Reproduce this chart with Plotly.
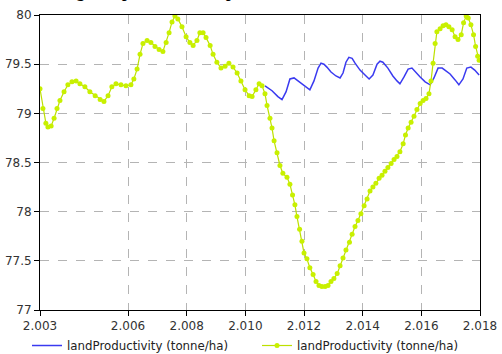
import plotly.graph_objects as go

# ---------------- data ----------------
title_text = "Average Crop Harvest Comparison"
series_name = "landProductivity (tonne/ha)"

x_tick_vals = [2003, 2006, 2008, 2010, 2012, 2014, 2016, 2018]
x_tick_text = ["2.003", "2.006", "2.008", "2.010", "2.012", "2.014", "2.016", "2.018"]
y_tick_vals = [77, 77.5, 78, 78.5, 79, 79.5, 80]
y_tick_text = ["77", "77.5", "78", "78.5", "79", "79.5", "80"]

green_years = [
    2003.00, 2003.10, 2003.20, 2003.27, 2003.38, 2003.48, 2003.58, 2003.68, 2003.82, 2003.95,
    2004.09, 2004.23, 2004.36, 2004.53, 2004.70, 2004.88, 2005.05, 2005.18, 2005.32, 2005.45,
    2005.59, 2005.76, 2005.93, 2006.10, 2006.20, 2006.31, 2006.41, 2006.51, 2006.65, 2006.78,
    2006.92, 2007.06, 2007.19, 2007.30, 2007.40, 2007.50, 2007.60, 2007.70, 2007.84, 2007.98,
    2008.11, 2008.22, 2008.35, 2008.45, 2008.56, 2008.66, 2008.80, 2008.90, 2009.03, 2009.17,
    2009.31, 2009.44, 2009.58, 2009.72, 2009.85, 2009.99, 2010.13, 2010.23, 2010.36, 2010.47,
    2010.57, 2010.67, 2010.74, 2010.84, 2010.91, 2010.98, 2011.08, 2011.18, 2011.28, 2011.42,
    2011.52, 2011.61, 2011.69, 2011.76, 2011.85, 2011.93, 2012.00, 2012.10, 2012.20, 2012.31,
    2012.41, 2012.51, 2012.61, 2012.72, 2012.82, 2012.92, 2013.02, 2013.13, 2013.23, 2013.33,
    2013.43, 2013.55, 2013.64, 2013.74, 2013.84, 2013.94, 2014.05, 2014.15, 2014.25, 2014.35,
    2014.45, 2014.56, 2014.66, 2014.76, 2014.86, 2014.97, 2015.07, 2015.17, 2015.27, 2015.38,
    2015.46, 2015.55, 2015.65, 2015.75, 2015.85, 2015.96, 2016.06, 2016.16, 2016.26, 2016.33,
    2016.40, 2016.47, 2016.53, 2016.64, 2016.74, 2016.84, 2016.94, 2017.05, 2017.15, 2017.25,
    2017.36, 2017.44, 2017.53, 2017.60, 2017.69, 2017.78, 2017.85, 2017.92, 2017.97,
]
green_values = [
    79.25, 79.05, 78.90, 78.86, 78.87, 78.95, 79.05, 79.13, 79.22, 79.29,
    79.32, 79.33, 79.30, 79.27, 79.22, 79.18, 79.14, 79.12, 79.18, 79.27,
    79.30, 79.29, 79.28, 79.29, 79.35, 79.45, 79.60, 79.71, 79.74, 79.72,
    79.68, 79.65, 79.63, 79.72, 79.82, 79.93, 79.99, 79.96, 79.88, 79.78,
    79.72, 79.69, 79.74, 79.82, 79.82, 79.77, 79.69, 79.60, 79.52, 79.46,
    79.48, 79.51, 79.47, 79.41, 79.33, 79.24, 79.18, 79.17, 79.24, 79.30,
    79.28, 79.20, 79.08, 78.95, 78.85, 78.72, 78.60, 78.47, 78.39, 78.35,
    78.28, 78.17, 78.07, 77.95, 77.82, 77.70, 77.58, 77.52, 77.43, 77.36,
    77.29, 77.25, 77.24, 77.24, 77.25, 77.29, 77.32, 77.37, 77.45, 77.53,
    77.61, 77.69, 77.77, 77.85, 77.91, 77.98, 78.06, 78.13, 78.21, 78.25,
    78.29, 78.34, 78.37, 78.41, 78.45, 78.49, 78.53, 78.56, 78.61, 78.69,
    78.78, 78.85, 78.91, 78.97, 79.04, 79.10, 79.13, 79.15, 79.20, 79.33,
    79.51, 79.71, 79.83, 79.86, 79.89, 79.90, 79.88, 79.85, 79.78, 79.75,
    79.80, 79.92, 79.99, 79.97, 79.90, 79.80, 79.68, 79.58, 79.54,
]

blue_years = [
    2010.67, 2010.91, 2011.11, 2011.25, 2011.39, 2011.52, 2011.66, 2011.80, 2011.93, 2012.07,
    2012.20, 2012.34, 2012.48, 2012.58, 2012.68, 2012.78, 2012.92, 2013.09, 2013.23, 2013.33,
    2013.43, 2013.53, 2013.64, 2013.74, 2013.91, 2014.08, 2014.22, 2014.35, 2014.49, 2014.59,
    2014.69, 2014.86, 2015.03, 2015.17, 2015.27, 2015.41, 2015.55, 2015.68, 2015.82, 2015.96,
    2016.13, 2016.30, 2016.43, 2016.57, 2016.71, 2016.84, 2016.98, 2017.15, 2017.28, 2017.42,
    2017.55, 2017.69, 2017.82, 2017.97,
]
blue_values = [
    79.28, 79.23, 79.17, 79.14, 79.22, 79.35, 79.36, 79.33, 79.30, 79.27,
    79.24, 79.33, 79.46, 79.51, 79.50, 79.47, 79.42, 79.38, 79.36, 79.41,
    79.52, 79.57, 79.56, 79.51, 79.44, 79.39, 79.35, 79.39, 79.50, 79.53,
    79.52, 79.46, 79.38, 79.33, 79.30, 79.37, 79.45, 79.46, 79.42, 79.37,
    79.32, 79.29, 79.36, 79.46, 79.46, 79.43, 79.40, 79.34, 79.29, 79.35,
    79.46, 79.47, 79.44, 79.39,
]

# ---------------- figure ----------------
fig = go.Figure()
fig.add_trace(go.Scatter(
    x=blue_years, y=blue_values, mode="lines", name=series_name,
    line=dict(color="#3a3af0", width=1.5), legend="legend",
))
fig.add_trace(go.Scatter(
    x=green_years, y=green_values, mode="lines+markers", name=series_name,
    line=dict(color="#bde000", width=1.2),
    marker=dict(color="#c8f000", size=5, line=dict(width=0)),
    legend="legend2",
))

axis_common = dict(
    showline=True, linecolor="black", linewidth=1, mirror=True,
    ticks="outside", ticklen=5, tickcolor="black",
    showgrid=True, gridcolor="#b4b4b4", griddash="dash", gridwidth=1,
    zeroline=False, automargin=False,
    tickfont=dict(family="DejaVu Sans", size=12, color="#333333"),
)

fig.update_xaxes(range=[2003, 2018], tickmode="array",
                 tickvals=x_tick_vals, ticktext=x_tick_text, **axis_common)
fig.update_yaxes(range=[77, 80], tickmode="array",
                 tickvals=y_tick_vals, ticktext=y_tick_text, **axis_common)

fig.add_annotation(
    text="<b>" + title_text + "</b>", xref="paper", yref="paper",
    x=-0.014, y=1, xanchor="left", yanchor="bottom", yshift=12, showarrow=False,
    font=dict(family="Liberation Serif", size=16, color="black"),
)

legend_style = dict(
    orientation="h", xref="container", yref="container",
    yanchor="middle", y=0.024, xanchor="left",
    font=dict(family="DejaVu Sans", size=11.8, color="#222222"),
    itemwidth=30, bgcolor="rgba(0,0,0,0)",
)

fig.update_layout(
    width=502, height=354,
    margin=dict(l=40, r=22, t=15, b=44, autoexpand=False),
    plot_bgcolor="white", paper_bgcolor="white",
    showlegend=True,
    legend=dict(x=27 / 502, **legend_style),
    legend2=dict(x=257 / 502, **legend_style),
)

fig.write_html(
    "out.html",
    config={"displayModeBar": False},
    post_script="document.body.style.margin='0';document.body.style.padding='0';"
                "document.body.style.overflow='hidden';",
)
